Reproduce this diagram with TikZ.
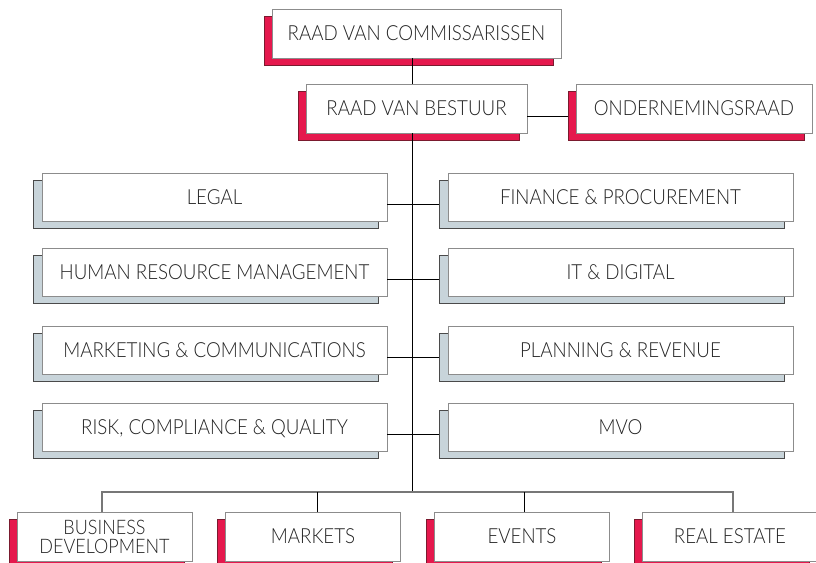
\documentclass[tikz,border=0pt]{standalone}
\usepackage{fontspec}
\setmainfont{Lato}[UprightFont=* Light, FakeStretch=0.9]
\usetikzlibrary{shadows}
\definecolor{crim}{HTML}{E5184D}
\definecolor{crimdark}{HTML}{7A1A2E}
\definecolor{slate}{HTML}{C8D4DA}
\definecolor{slatedark}{HTML}{4A4A4A}
\definecolor{boxline}{HTML}{8C8C8C}
\definecolor{txt}{HTML}{222222}
\tikzset{
  orgbox/.style={draw=boxline, line width=0.9pt, fill=white, inner sep=0pt, outer sep=0pt,
    text=txt, font=\fontsize{20.8}{19}\selectfont, align=center},
  caps/.style={text height=14.9pt, text depth=0pt},
  redbox/.style={orgbox, minimum height=49pt,
    drop shadow={shadow xshift=-8pt, shadow yshift=-7pt, shadow scale=1, fill=crim,
      draw=crimdark, line width=0.8pt, opacity=1}},
  greybox/.style={orgbox, caps, minimum width=345pt, minimum height=48pt,
    drop shadow={shadow xshift=-9pt, shadow yshift=-7pt, shadow scale=1, fill=slate,
      draw=slatedark, line width=0.8pt, opacity=1}},
  link/.style={draw=black, line width=0.9pt},
  busline/.style={draw=boxline!85!black, line width=1.3pt},
}
\begin{document}
\begin{tikzpicture}[x=1pt, y=-1pt]
\clip (0,0) rectangle (816,562);
\fill[white] (0,0) rectangle (816,562);
% top
\node[redbox, caps, minimum width=289pt] (rvc) at (416.5,33.5) {RAAD VAN COMMISSARISSEN};
\node[redbox, caps, minimum width=221pt] (rvb) at (416.5,108.5) {RAAD VAN BESTUUR};
\node[redbox, caps, minimum width=236pt] (or) at (694,108.5) {ONDERNEMINGSRAAD};
% staff columns
\node[greybox] (legal) at (214.5,197) {LEGAL};
\node[greybox] (hrm) at (214.5,272.5) {HUMAN RESOURCE MANAGEMENT};
\node[greybox] (mc) at (214.5,350) {MARKETING \& COMMUNICATIONS};
\node[greybox] (rcq) at (214.5,427) {RISK, COMPLIANCE \& QUALITY};
\node[greybox] (fin) at (620.5,197) {FINANCE \& PROCUREMENT};
\node[greybox] (it) at (620.5,272.5) {IT \& DIGITAL};
\node[greybox] (pr) at (620.5,350) {PLANNING \& REVENUE};
\node[greybox] (mvo) at (620.5,427) {MVO};
% bottom
\node[redbox, minimum width=175pt, font=\fontsize{20}{19}\selectfont] (bd) at (104.5,536.5) {BUSINESS\\DEVELOPMENT};
\node[redbox, caps, minimum width=175pt] (mk) at (313,536.5) {MARKETS};
\node[redbox, caps, minimum width=175pt] (ev) at (522,536.5) {EVENTS};
\node[redbox, caps, minimum width=175pt] (re) at (730,536.5) {REAL ESTATE};
% connectors
\coordinate (bus) at (412,492);
\draw[link] (rvc.south -| bus) -- (rvb.north -| bus);
\draw[link] (rvb.south -| bus) -- (bus);
\coordinate (orS) at ([shift={(-8pt,-7.5pt)}]or.west);
\draw[link] (rvb.east |- orS) -- (orS);
\foreach \l/\r in {legal/fin, hrm/it, mc/pr, rcq/mvo}{
  \draw[link] ([yshift=-7pt]\l.east) -- ([shift={(-9pt,-7pt)}]\r.west);
}
\draw[busline] ([xshift=-2.5pt]bd.north) |- (bus) -| ([xshift=3pt]re.north);
\draw[link] ([xshift=4pt]mk.north) -- ([xshift=4pt]mk.north |- bus);
\draw[link] ([xshift=2pt]ev.north) -- ([xshift=2pt]ev.north |- bus);
\end{tikzpicture}
\end{document}
